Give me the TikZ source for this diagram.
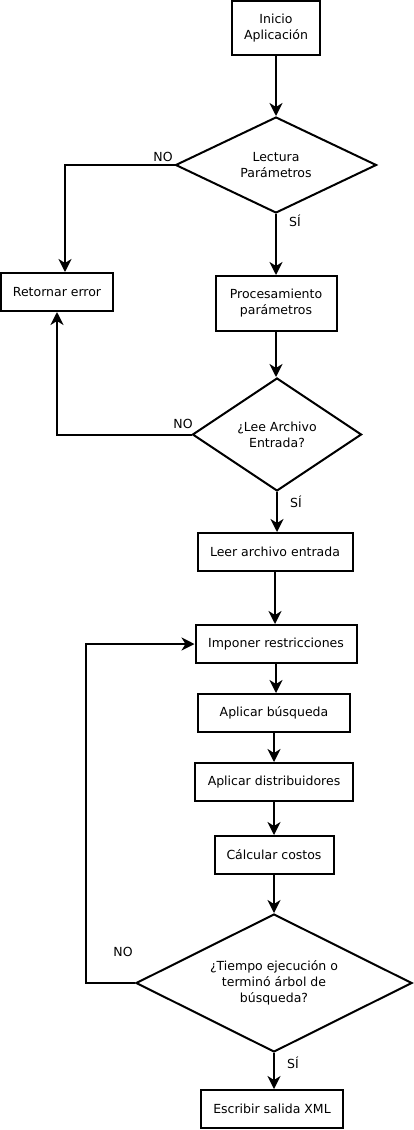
\documentclass[tikz,border=0pt]{standalone}
\usepackage{fontspec}
\setmainfont{DejaVu Sans}
\usetikzlibrary{shapes.geometric,arrows.meta}
\begin{document}
\begin{tikzpicture}[x=1pt,y=-1pt,
  every node/.style={font=\fontsize{12.5}{16}\selectfont},
  box/.style={draw,line width=2pt,inner sep=0pt,align=center},
  dec/.style={draw,diamond,line width=2pt,inner sep=0pt,align=center},
  lbl/.style={inner sep=0pt},
  arr/.style={line width=2pt,-{Stealth[length=13pt,width=13pt,inset=4pt]}}]
\useasboundingbox (0,0) rectangle (413,1130);
\node[box,minimum width=88,minimum height=54] (ini) at (276,28) {Inicio\\Aplicación};
\node[dec,aspect=2.1,minimum width=201,minimum height=96] (d1) at (276,165) {Lectura\\Parámetros};
\node[box,minimum width=112,minimum height=38] (ret) at (57,292) {Retornar error};
\node[box,minimum width=121,minimum height=55] (proc) at (276,303.5) {Procesamiento\\parámetros};
\node[dec,aspect=1.5,minimum width=169,minimum height=113] (d2) at (277,434.5) {¿Lee Archivo\\Entrada?};
\node[box,minimum width=155,minimum height=38] (leer) at (275,552) {Leer archivo entrada};
\node[box,minimum width=161,minimum height=38] (imp) at (276,644) {Imponer restricciones};
\node[box,minimum width=152,minimum height=38] (bus) at (274,713) {Aplicar búsqueda};
\node[box,minimum width=158,minimum height=38] (dis) at (274,782) {Aplicar distribuidores};
\node[box,minimum width=119,minimum height=38] (cos) at (274,855) {Cálcular costos};
\node[dec,aspect=2,minimum width=276,minimum height=138] (d3) at (274,983) {¿Tiempo ejecución o\\terminó árbol de\\búsqueda?};
\node[box,minimum width=142,minimum height=38] (esc) at (272,1109) {Escribir salida XML};

\node[lbl] (no1) at (163,157) {NO};
\node[lbl] (si1) at (295,221) {SÍ};
\node[lbl] (no2) at (183,424) {NO};
\node[lbl] (si2) at (296,502) {SÍ};
\node[lbl] (no3) at (123,952) {NO};
\node[lbl] (si3) at (293,1063) {SÍ};

\coordinate (r2) at (57,434.5);
\coordinate (l3a) at (86,983);
\coordinate (l3b) at (86,644);

\draw[arr] (ini.south) -- (ini.south |- d1.north);
\draw[arr] (d1.west) -| ([xshift=8pt]ret.north);
\draw[arr] (d1.south) -- (d1.south |- proc.north);
\draw[arr] (proc.south) -- (proc.south |- d2.north);
\draw[arr] (d2.west) -- (r2) -- (ret.south);
\draw[arr] (d2.south) -- (d2.south |- leer.north);
\draw[arr] (leer.south) -- (leer.south |- imp.north);
\draw[arr] (imp.south) -- (imp.south |- bus.north);
\draw[arr] (bus.south) -- (bus.south |- dis.north);
\draw[arr] (dis.south) -- (dis.south |- cos.north);
\draw[arr] (cos.south) -- (cos.south |- d3.north);
\draw[arr] (d3.south) -- (d3.south |- esc.north);
\draw[arr] (d3.west) -- (l3a) -- (l3b) -- (imp.west);
\end{tikzpicture}
\end{document}
